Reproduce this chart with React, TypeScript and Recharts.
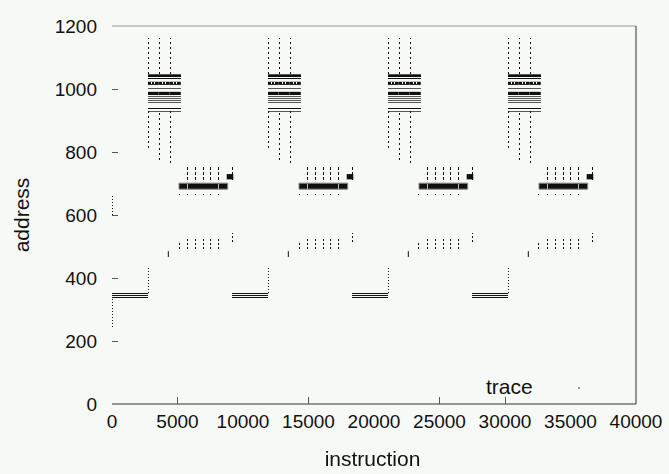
import React from "react";
import {
  ComposedChart,
  XAxis,
  YAxis,
  ReferenceLine,
  ReferenceArea,
  Scatter,
} from "recharts";

const W = 669;
const H = 474;
const BG = "#f6f9f6";
const INK = "#111";
const GREY = "#555";
const FONT = "'Liberation Sans', Arial, sans-serif";
const TICK_SIZE = 19;
const TITLE_SIZE = 21;

// axes
const xTicks = [0, 5000, 10000, 15000, 20000, 25000, 30000, 35000, 40000];
const xTickMarks = [5000, 15000, 25000, 30000];
const yTicks = [0, 200, 400, 600, 800, 1000, 1200];
const yTickMarks = [200, 400, 600, 800, 1000];

// instruction at which each of the four outer iterations starts
const periodStarts = [0, 9160, 18320, 27480];

// accesses at instruction 0 only (start-up)
const startupRanges = [
  [245, 335],
  [600, 665],
];

// inner loop near address 340 (offsets relative to iteration start)
const loopLines = [352, 344, 337];
const loopEnd = 2750;
const loopJump = [352, 435];

// block of accesses around address 1000, three columns
const clusterCols = [2750, 3590, 4430];
const clusterWidth = 820;
const clusterLines = [
  { y: 1046, c: GREY, w: 1 },
  { y: 1040, c: INK, w: 2 },
  { y: 1033, c: INK, w: 1 },
  { y: 1003, c: GREY, w: 1 },
  { y: 976, c: GREY, w: 1 },
  { y: 970, c: GREY, w: 1 },
  { y: 963, c: GREY, w: 1 },
  { y: 957, c: GREY, w: 1 },
  { y: 937, c: INK, w: 1 },
  { y: 930, c: GREY, w: 1 },
];
const clusterBands = [
  [1013, 1023],
  [981, 991],
];
const clusterAbove = [1048, 1162];
const clusterBelowTop = 930;
const clusterBelowEnd = [813, 775, 765];

// band near address 690
const bandX = [5115, 8830];
const bandY = [682, 701];
const bandGaps = [5750, 8115];
const bandDashX = [5780, 6390, 6970, 7535, 8115];
const bandDashY = [711, 755];
const bandBelowY = [665, 674];
const blockX = [8755, 9260];
const blockY = [713, 730];
const lateDashX = 9215;

// dashes near address 510
const lowDashY = [492, 531];
const firstLowDashY = [492, 515];
const lateLowDashY = [515, 544];

// isolated accesses near address 478
const midDots = [
  { x: 4300, y: 470 },
  { x: 4300, y: 476 },
  { x: 4300, y: 482 },
];

const scatterData = periodStarts.flatMap((p) =>
  midDots.map((d) => ({ x: p + d.x, y: d.y }))
);

function vseg(x: number, y1: number, y2: number, key: string, dash = "1 2", color = INK) {
  return (
    <ReferenceLine
      key={key}
      segment={[
        { x, y: y1 },
        { x, y: y2 },
      ]}
      stroke={color}
      strokeWidth={1}
      strokeDasharray={dash}
      shapeRendering="crispEdges"
      ifOverflow="visible"
    />
  );
}

function hseg(x1: number, x2: number, y: number, key: string, color = INK, w = 1) {
  return (
    <ReferenceLine
      key={key}
      segment={[
        { x: x1, y },
        { x: x2, y },
      ]}
      stroke={color}
      strokeWidth={w}
      shapeRendering="crispEdges"
      ifOverflow="visible"
    />
  );
}

function BottomTick(props: any) {
  const { x, payload } = props;
  return (
    <g>
      {xTickMarks.includes(payload.value) && (
        <line x1={x} x2={x} y1={404} y2={397} stroke="#555" shapeRendering="crispEdges" />
      )}
      <text x={x} y={428} textAnchor="middle" fontSize={TICK_SIZE} fontFamily={FONT} fill="#111">
        {payload.value}
      </text>
    </g>
  );
}

function TopTick(props: any) {
  const { x, payload } = props;
  if (!xTickMarks.includes(payload.value)) return null;
  return <line x1={x} x2={x} y1={26} y2={33} stroke="#555" shapeRendering="crispEdges" />;
}

function LeftTick(props: any) {
  const { y, payload } = props;
  return (
    <g>
      {yTickMarks.includes(payload.value) && (
        <line x1={112} x2={118} y1={y} y2={y} stroke="#555" shapeRendering="crispEdges" />
      )}
      <text x={97} y={y + 7} textAnchor="end" fontSize={TICK_SIZE} fontFamily={FONT} fill="#111">
        {payload.value}
      </text>
    </g>
  );
}

function RightTick(props: any) {
  const { y, payload } = props;
  if (!yTickMarks.includes(payload.value)) return null;
  return <line x1={636} x2={630} y1={y} y2={y} stroke="#333" shapeRendering="crispEdges" />;
}

export default function App() {
  const marks: React.ReactNode[] = [];

  startupRanges.forEach((r, i) => marks.push(vseg(0, r[0], r[1], `st${i}`)));

  periodStarts.forEach((p, pi) => {
    loopLines.forEach((y, i) => marks.push(hseg(p, p + loopEnd, y, `ll${pi}-${i}`, INK, 1)));
    marks.push(vseg(p + loopEnd, loopJump[0], loopJump[1], `lj${pi}`));

    clusterCols.forEach((c, ci) => {
      const x1 = p + c;
      const x2 = x1 + clusterWidth;
      clusterBands.forEach((b, bi) =>
        marks.push(
          <ReferenceArea
            key={`cb${pi}-${ci}-${bi}`}
            x1={x1}
            x2={x2}
            y1={b[0]}
            y2={b[1]}
            fill={INK}
            fillOpacity={1}
            stroke="none"
            ifOverflow="visible"
          />
        )
      );
      clusterLines.forEach((l, li) => marks.push(hseg(x1, x2, l.y, `cl${pi}-${ci}-${li}`, l.c, l.w)));
      marks.push(vseg(x1 + 40, clusterAbove[0], clusterAbove[1], `ca${pi}-${ci}`, "2 3"));
      marks.push(vseg(x1 + 40, clusterBelowEnd[ci], clusterBelowTop, `cd${pi}-${ci}`, "2 3"));
      // white gaps in the upper band
      [250, 520].forEach((g, gi) =>
        marks.push(vseg(x1 + g, 1015, 1021, `cg${pi}-${ci}-${gi}`, "0", BG))
      );
    });

    marks.push(
      <ReferenceArea
        key={`band${pi}`}
        x1={p + bandX[0]}
        x2={p + bandX[1]}
        y1={bandY[0]}
        y2={bandY[1]}
        fill={INK}
        fillOpacity={1}
        stroke="#888"
        ifOverflow="visible"
      />
    );
    bandGaps.forEach((g, gi) => marks.push(vseg(p + g, bandY[0] + 1, bandY[1] - 1, `bg${pi}-${gi}`, "0", "#bbb")));
    marks.push(
      <ReferenceArea
        key={`blk${pi}`}
        x1={p + blockX[0]}
        x2={p + blockX[1]}
        y1={blockY[0]}
        y2={blockY[1]}
        fill={INK}
        fillOpacity={1}
        stroke="none"
        ifOverflow="visible"
      />
    );
    bandDashX.forEach((x, i) => {
      marks.push(vseg(p + x, bandDashY[0], bandDashY[1], `bd${pi}-${i}`, "3 2"));
      marks.push(vseg(p + x, bandBelowY[0], bandBelowY[1], `bb${pi}-${i}`, "1 2"));
      marks.push(vseg(p + x, lowDashY[0], lowDashY[1], `lo${pi}-${i}`, "2 2"));
    });
    marks.push(vseg(p + bandX[0], bandBelowY[0], bandBelowY[1], `bb0${pi}`, "1 2"));
    marks.push(vseg(p + bandX[0], firstLowDashY[0], firstLowDashY[1], `lf${pi}`, "2 2"));
    marks.push(vseg(p + lateDashX, bandDashY[0], bandDashY[1], `ld${pi}`, "3 2"));
    marks.push(vseg(p + lateDashX, lateLowDashY[0], lateLowDashY[1], `ll2${pi}`, "2 2"));
  });

  return (
    <div style={{ position: "fixed", left: 0, top: 0, width: W, height: H, background: BG }}>
      <ComposedChart width={W} height={H} margin={{ top: 0, right: 0, bottom: 0, left: 0 }}>
        <XAxis
          xAxisId={0}
          type="number"
          dataKey="x"
          domain={[0, 40000]}
          ticks={xTicks}
          height={70}
          axisLine={{ stroke: "#333" }}
          tickLine={false}
          tick={<BottomTick />}
          interval={0}
        />
        <XAxis
          xAxisId="top"
          orientation="top"
          type="number"
          domain={[0, 40000]}
          ticks={xTicks}
          height={26}
          axisLine={{ stroke: "#999" }}
          tickLine={false}
          tick={<TopTick />}
          interval={0}
        />
        <YAxis
          yAxisId={0}
          type="number"
          dataKey="y"
          domain={[0, 1200]}
          ticks={yTicks}
          width={112}
          axisLine={false}
          tickLine={false}
          tick={<LeftTick />}
          interval={0}
        />
        <YAxis
          yAxisId="right"
          orientation="right"
          type="number"
          domain={[0, 1200]}
          ticks={yTicks}
          width={33}
          axisLine={{ stroke: "#333" }}
          tickLine={false}
          tick={<RightTick />}
          interval={0}
        />
        {marks}
        <Scatter
          name="trace"
          data={scatterData}
          fill={INK}
          isAnimationActive={false}
          shape={(p: any) => <rect x={p.cx - 0.5} y={p.cy - 1} width={1} height={2} fill={INK} />}
        />
      </ComposedChart>
      {/* legend */}
      <div
        style={{
          position: "absolute",
          left: 486,
          top: 375,
          fontFamily: FONT,
          fontSize: TITLE_SIZE,
          lineHeight: "24px",
          color: "#111",
        }}
      >
        trace
      </div>
      <div style={{ position: "absolute", left: 578, top: 387, width: 2, height: 2, background: "#999" }} />
      <div
        style={{
          position: "absolute",
          left: 0,
          width: 745,
          top: 447,
          textAlign: "center",
          fontFamily: FONT,
          fontSize: TITLE_SIZE,
          lineHeight: "24px",
          color: "#111",
        }}
      >
        instruction
      </div>
      <div
        style={{
          position: "absolute",
          left: 22,
          top: 215,
          transform: "translate(-50%, -50%) rotate(-90deg)",
          fontFamily: FONT,
          fontSize: TITLE_SIZE,
          lineHeight: "24px",
          color: "#111",
          whiteSpace: "nowrap",
        }}
      >
        address
      </div>
    </div>
  );
}
